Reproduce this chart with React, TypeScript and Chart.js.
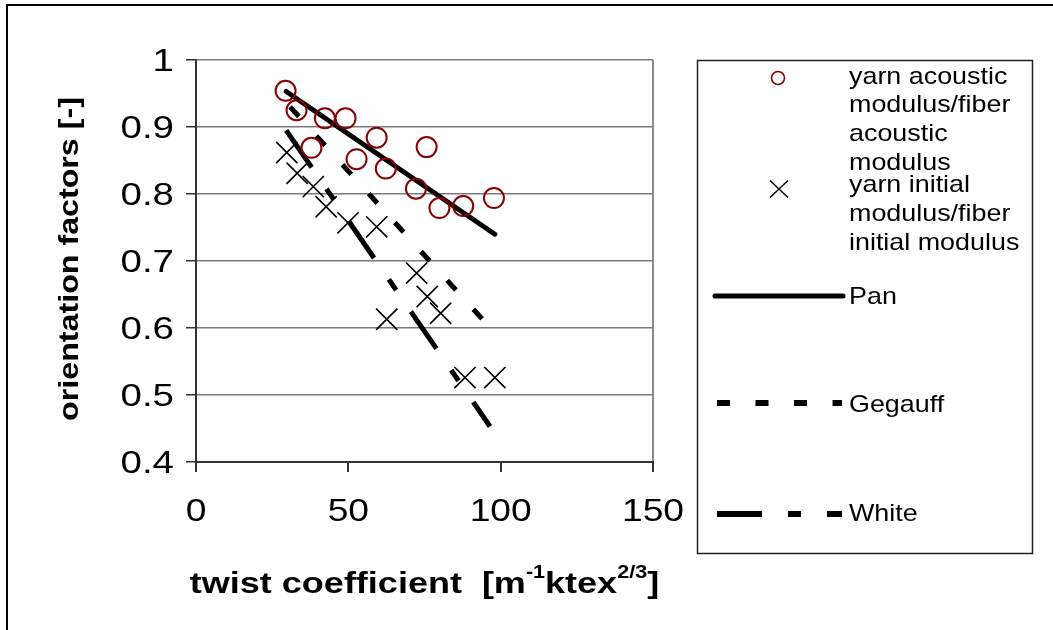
import React, { useEffect, useRef } from "react";
import { Chart, registerables } from "chart.js";

Chart.register(...registerables);

// ---------- data ----------
const acousticX = [29.4, 33.0, 37.9, 42.3, 49.1, 52.7, 59.3, 62.3, 72.2, 75.7, 79.9, 87.7, 97.8];
const acousticY = [0.954, 0.925, 0.869, 0.913, 0.913, 0.852, 0.884, 0.838, 0.808, 0.870, 0.779, 0.782, 0.794];

const initialX = [29.8, 33.2, 38.5, 42.7, 49.9, 59.3, 62.6, 72.4, 75.9, 80.3, 88.3, 98.1];
const initialY = [0.862, 0.831, 0.811, 0.781, 0.757, 0.751, 0.613, 0.682, 0.647, 0.622, 0.526, 0.526];

const panX = [29.6, 98.1];
const panY = [0.953, 0.74];
const gegauffX = [30.9, 97.8];
const gegauffY = [0.93, 0.594];
const whiteX = [29.6, 96.5];
const whiteY = [0.895, 0.453];

const xTicks = [0, 50, 100, 150];
const xTickLabels = ["0", "50", "100", "150"];
const yTicks = [0.4, 0.5, 0.6, 0.7, 0.8, 0.9, 1];
const yTickLabels = ["0.4", "0.5", "0.6", "0.7", "0.8", "0.9", "1"];

const seriesNames = [
  "yarn acoustic modulus/fiber acoustic modulus",
  "yarn initial modulus/fiber initial modulus",
  "Pan",
  "Gegauff",
  "White",
];
const legendLines = [
  ["yarn acoustic", "modulus/fiber", "acoustic", "modulus"],
  ["yarn initial", "modulus/fiber", "initial modulus"],
  ["Pan"],
  ["Gegauff"],
  ["White"],
];

const yTitle = "orientation factors [-]";

const RED = "#8B0000";
const FONT = '"Liberation Sans", Arial, sans-serif';

const toPts = (xs: number[], ys: number[]) => xs.map((x, i) => ({ x, y: ys[i] }));

function stretched(ctx: CanvasRenderingContext2D, text: string, x: number, y: number, sx: number, align: CanvasTextAlign) {
  ctx.save();
  ctx.translate(x, y);
  ctx.scale(sx, 1);
  ctx.textAlign = align;
  ctx.fillText(text, 0, 0);
  ctx.restore();
}

const overlay = {
  id: "overlay",
  afterDraw(chart: any) {
    const ctx: CanvasRenderingContext2D = chart.ctx;
    const xs = chart.scales.x;
    const ys = chart.scales.y;
    const area = chart.chartArea;
    ctx.save();

    // outer frame
    ctx.strokeStyle = "#000";
    ctx.lineWidth = 2;
    ctx.strokeRect(7, 5, 1200, 800);

    // tick labels
    ctx.fillStyle = "#000";
    ctx.font = `31px ${FONT}`;
    ctx.textBaseline = "middle";
    yTicks.forEach((v, i) => stretched(ctx, yTickLabels[i], 174, ys.getPixelForValue(v) + 2, 1.24, "right"));
    xTicks.forEach((v, i) => stretched(ctx, xTickLabels[i], xs.getPixelForValue(v), 512, 1.2, "center"));

    // y title
    ctx.save();
    ctx.font = `bold 28px ${FONT}`;
    ctx.translate(70, 259);
    ctx.rotate(-Math.PI / 2);
    ctx.scale(1.15, 1);
    ctx.textAlign = "center";
    ctx.textBaseline = "middle";
    ctx.fillText(yTitle, 0, 0);
    ctx.restore();

    // x title with superscripts
    const sx = 1.2;
    const parts = [
      { t: "twist coefficient  [m", f: `bold 30px ${FONT}`, dy: 0 },
      { t: "-1", f: `bold 18px ${FONT}`, dy: -15 },
      { t: "ktex", f: `bold 30px ${FONT}`, dy: 0 },
      { t: "2/3", f: `bold 18px ${FONT}`, dy: -15 },
      { t: "]", f: `bold 30px ${FONT}`, dy: 0 },
    ];
    let total = 0;
    parts.forEach((p) => {
      ctx.font = p.f;
      total += ctx.measureText(p.t).width * sx;
    });
    let cx = (area.left + area.right) / 2 - total / 2;
    ctx.textBaseline = "alphabetic";
    parts.forEach((p) => {
      ctx.font = p.f;
      stretched(ctx, p.t, cx, 593 + p.dy, sx, "left");
      cx += ctx.measureText(p.t).width * sx;
    });

    // legend box
    ctx.strokeStyle = "#222";
    ctx.lineWidth = 1.5;
    ctx.strokeRect(697.5, 60.5, 335, 493);

    // legend symbols
    ctx.strokeStyle = RED;
    ctx.lineWidth = 1.6;
    ctx.beginPath();
    ctx.arc(778, 78, 6.5, 0, Math.PI * 2);
    ctx.stroke();

    ctx.strokeStyle = "#000";
    ctx.lineWidth = 1.5;
    ctx.beginPath();
    ctx.moveTo(770, 180.5);
    ctx.lineTo(788, 197.5);
    ctx.moveTo(788, 180.5);
    ctx.lineTo(770, 197.5);
    ctx.stroke();

    ctx.lineWidth = 5;
    ctx.lineCap = "round";
    ctx.beginPath();
    ctx.moveTo(715, 296);
    ctx.lineTo(843, 296);
    ctx.stroke();

    ctx.lineCap = "butt";
    ctx.lineWidth = 6;
    ctx.setLineDash([13, 25.5]);
    ctx.beginPath();
    ctx.moveTo(717, 403);
    ctx.lineTo(842, 403);
    ctx.stroke();

    ctx.setLineDash([45, 26, 13, 26]);
    ctx.beginPath();
    ctx.moveTo(717, 514);
    ctx.lineTo(842, 514);
    ctx.stroke();
    ctx.setLineDash([]);

    // legend text
    ctx.fillStyle = "#000";
    ctx.font = `24px ${FONT}`;
    ctx.textBaseline = "middle";
    const lineYs = [
      [77, 105, 134, 163],
      [185, 214, 243],
      [297],
      [405],
      [514],
    ];
    legendLines.forEach((lines, i) =>
      lines.forEach((ln, j) => stretched(ctx, ln, 849, lineYs[i][j], 1.12, "left"))
    );

    ctx.restore();
  },
};

export default function App() {
  const ref = useRef<HTMLCanvasElement | null>(null);

  useEffect(() => {
    if (!ref.current) return;
    const chart = new Chart(ref.current, {
      type: "scatter",
      data: {
        datasets: [
          {
            label: seriesNames[0],
            data: toPts(acousticX, acousticY),
            pointStyle: "circle",
            pointRadius: 10,
            pointBorderColor: RED,
            pointBackgroundColor: "rgba(0,0,0,0)",
            pointBorderWidth: 2,
            showLine: false,
          },
          {
            label: seriesNames[1],
            data: toPts(initialX, initialY),
            pointStyle: "crossRot",
            pointRadius: 15,
            pointBorderColor: "#000",
            pointBackgroundColor: "#000",
            pointBorderWidth: 1.6,
            showLine: false,
          },
          {
            label: seriesNames[2],
            data: toPts(panX, panY),
            showLine: true,
            borderColor: "#000",
            borderWidth: 5,
            pointRadius: 0,
            borderCapStyle: "round",
          },
          {
            label: seriesNames[3],
            data: toPts(gegauffX, gegauffY),
            showLine: true,
            borderColor: "#000",
            borderWidth: 5,
            pointRadius: 0,
            borderDash: [13, 26],
          },
          {
            label: seriesNames[4],
            data: toPts(whiteX, whiteY),
            showLine: true,
            borderColor: "#000",
            borderWidth: 5,
            pointRadius: 0,
            borderDash: [45, 26, 13, 26],
          },
        ],
      },
      options: {
        animation: false,
        responsive: false,
        maintainAspectRatio: false,
        events: [],
        layout: { padding: { left: 0, top: 60, right: 400, bottom: 0 } },
        plugins: { legend: { display: false }, tooltip: { enabled: false } },
        scales: {
          x: {
            type: "linear",
            min: 0,
            max: 150,
            ticks: { display: false, stepSize: 50 },
            grid: {
              color: (c: any) => (c.tick && c.tick.value === 150 ? "#8a8a8a" : "rgba(0,0,0,0)"),
              tickColor: "#333",
              tickLength: 10,
              lineWidth: 2,
            },
            border: { color: "#333", width: 2 },
            afterFit: (s: any) => {
              s.height = 168;
            },
          },
          y: {
            type: "linear",
            min: 0.4,
            max: 1,
            ticks: { display: false, stepSize: 0.1 },
            grid: { color: "#7a7a7a", tickColor: "#333", tickLength: 10, lineWidth: 1.5 },
            border: { color: "#333", width: 2 },
            afterFit: (s: any) => {
              s.width = 196;
            },
          },
        },
      },
      plugins: [overlay],
    });
    return () => chart.destroy();
  }, []);

  return (
    <div style={{ position: "absolute", left: 0, top: 0, width: 1053, height: 630, background: "#fff" }}>
      <canvas ref={ref} width={1053} height={630} style={{ display: "block", width: 1053, height: 630 }} />
    </div>
  );
}
